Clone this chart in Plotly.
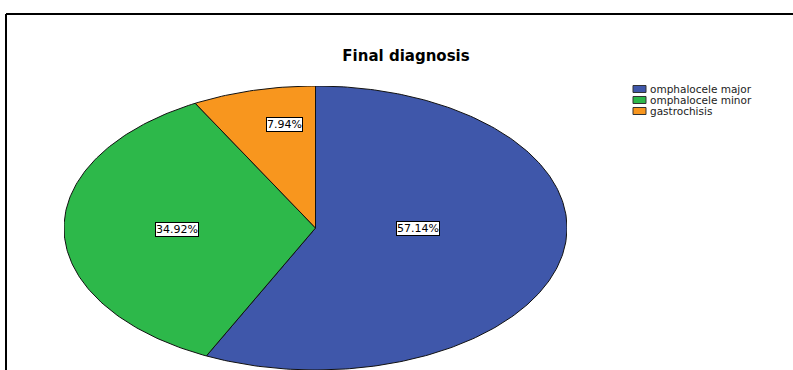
import numpy as np
import plotly.graph_objects as go

# ---- data ----
categories = ["omphalocele major", "omphalocele minor", "gastrochisis"]
counts = [36, 22, 5]
colors = ["#3F57AA", "#2DB84A", "#F8961E"]
title_text = "Final diagnosis"

# ---- style / layout constants ----
W, H = 793, 370
label_r = [0.42, 0.55, 0.75]
label_shift = [(0, 13), (0, 0), (16, 0)]  # (xshift, yshift) px


def px_x(p):
    return p / W


def px_y(p):
    return 1 - p / H


total = sum(counts)
fracs = [c / total for c in counts]

fig = go.Figure()

start = 0.0
mids = []
for cat, f, col in zip(categories, fracs, colors):
    t0, t1 = start * 2 * np.pi, (start + f) * 2 * np.pi
    t = np.linspace(t0, t1, max(int(f * 400), 8))
    xs = np.concatenate([[0], np.sin(t), [0]])
    ys = np.concatenate([[0], np.cos(t), [0]])
    fig.add_trace(go.Scatter(
        x=xs, y=ys, mode="lines", fill="toself", fillcolor=col,
        line=dict(color="#111111", width=1), name=cat,
        hoverinfo="name", showlegend=False))
    mids.append((t0 + t1) / 2)
    start += f

for f, m, r, (dx, dy) in zip(fracs, mids, label_r, label_shift):
    fig.add_annotation(
        x=r * np.sin(m), y=r * np.cos(m), xref="x", yref="y",
        xshift=dx, yshift=dy,
        text=f"{f * 100:.2f}%", showarrow=False,
        font=dict(family="DejaVu Sans", size=11, color="black"),
        bgcolor="white", bordercolor="black", borderwidth=1, borderpad=0)

# legend as annotations + swatches
for i, (cat, col) in enumerate(zip(categories, colors)):
    yc = 89.0 + i * 11.0
    fig.add_shape(type="rect", xref="paper", yref="paper",
                  x0=px_x(633), x1=px_x(646), y0=px_y(yc - 3.5), y1=px_y(yc + 3.5),
                  fillcolor=col, line=dict(color="#333333", width=1))
    fig.add_annotation(x=px_x(648), y=px_y(yc), xref="paper", yref="paper",
                       xanchor="left", yanchor="middle", showarrow=False,
                       text=cat,
                       font=dict(family="DejaVu Sans", size=10.5, color="#222222"))

# frame
fig.add_shape(type="line", xref="paper", yref="paper",
              x0=px_x(6), x1=1.01, y0=px_y(14), y1=px_y(14),
              line=dict(color="black", width=2))
fig.add_shape(type="line", xref="paper", yref="paper",
              x0=px_x(6), x1=px_x(6), y0=px_y(14), y1=-0.01,
              line=dict(color="black", width=2))

fig.update_layout(
    width=W, height=H, margin=dict(l=0, r=0, t=0, b=0),
    paper_bgcolor="white", plot_bgcolor="white",
    showlegend=False,
    title=dict(text=f"<b>{title_text}</b>", x=px_x(406), y=px_y(56),
               xanchor="center", yanchor="middle",
               font=dict(family="DejaVu Sans", size=15, color="black")),
    xaxis=dict(domain=[px_x(64), px_x(567)], range=[-1, 1], visible=False,
               fixedrange=True),
    yaxis=dict(domain=[0, px_y(86)], range=[-1, 1], visible=False,
               fixedrange=True),
)

fig.write_html("out.html")
